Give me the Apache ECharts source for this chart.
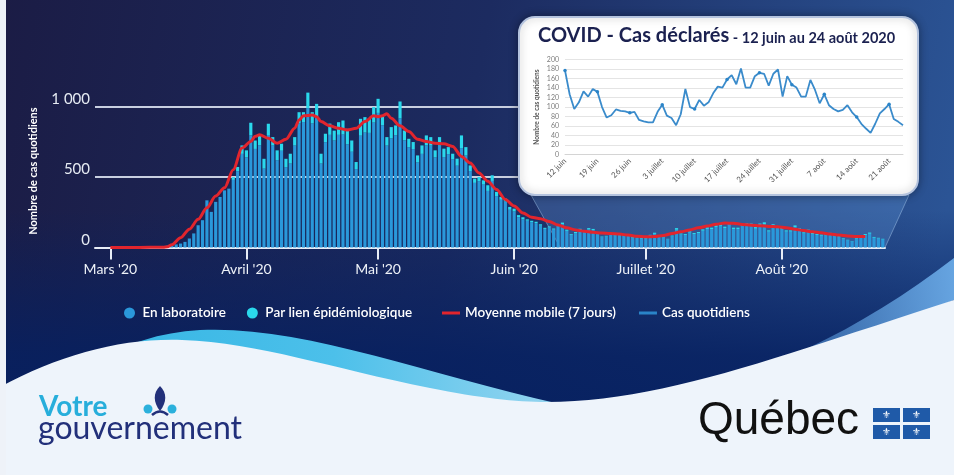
<!DOCTYPE html>
<html><head><meta charset="utf-8">
<script src="https://cdn.jsdelivr.net/npm/echarts@6.0.0/dist/echarts.min.js"></script>
<style>html,body{margin:0;padding:0;background:#eef4fb}#c{width:954px;height:475px}</style>
</head><body><div id="c"></div><script>
// ---------- DATA ----------
const padDays = 3; // empty categories before Mar 1 (Feb 27-29)
const monthTickDays = [0, 31, 61, 92, 122, 153];
const monthTickLabels = ["Mars '20", "Avril '20", "Mai '20", "Juin '20", "Juillet '20", "Août '20"];
const mainYTicks = [0, 500, 1000];
const mainYTickLabels = ['0', '500', '1 000'];

// Mar 1 -> Aug 24 2020 (177 days)
const labCases = [
  0,0,0,0,1,1,1,2,2,3,
  4,5,8,12,17,22,28,40,64,100,
  158,194,335,253,324,359,406,418,
  480,542,665,640,796,700,726,560,799,724,620,687,
  570,596,724,881,891,990,881,930,596,748,
  800,760,800,802,733,680,557,794,816,814,
  887,956,868,724,775,797,917,761,712,699,
  604,665,726,724,640,724,642,663,626,581,
  706,653,543,459,471,447,402,473,365,339,
  327,268,256,215,200,190,180,173,155,132,142,127,150,
  165,118,90,102,124,114,128,124,94,73,
  78,89,86,85,82,84,68,65,63,63,
  84,97,76,72,58,79,126,93,89,106,
  95,102,119,132,130,146,154,137,166,130,
  130,152,158,156,134,156,164,113,152,136,
  130,113,113,145,126,100,117,96,89,84,
  87,96,82,73,60,51,43,60,80,89,
  98,69,64,57
];
const epiCases = [
  0,0,0,0,0,0,0,0,0,0,
  0,0,0,0,0,0,0,0,0,0,
  0,0,0,0,0,0,0,0,
  20,30,60,50,90,60,70,70,80,60,70,50,
  60,70,60,80,70,110,80,90,70,60,
  80,70,90,100,110,80,50,120,110,100,
  110,100,70,60,80,70,120,70,60,50,
  50,60,70,60,50,60,60,50,40,50,
  90,60,40,30,30,30,40,40,30,20,
  20,20,20,15,15,10,10,10,10,8,8,8,10,
  12,9,6,8,9,8,10,8,6,5,
  5,6,6,6,6,6,5,5,5,5,
  6,8,6,5,4,6,12,7,7,9,
  8,8,10,11,11,12,13,11,15,11,
  11,13,14,14,11,14,15,9,13,11,
  11,9,9,12,10,8,10,8,7,7,
  7,8,7,6,5,4,3,5,7,7,
  8,6,5,5
];
// 7-day moving average (day index from Mar 1)
const movingAvgDays = [0,6,12,13,14,16,18,20,22,24,26,28,30,32,33,34,36,38,40,42,43,44,46,47,48,50,52,54,56,58,60,61,62,63,64,66,68,70,72,74,76,78,80,82,84,86,88,90,92,94,96,98,100,102,104,106,108,110,112,114,116,118,120,122,124,126,128,130,132,134,136,138,140,142,144,146,148,150,152,154,156,158,160,162,164,166,168,170,172];
const movingAvgValues = [0,0,2,5,20,70,130,200,282,365,424,553,706,753,790,800,776,740,769,847,906,935,941,929,894,864,847,835,847,894,935,929,935,950,918,864,824,769,753,741,736,718,647,600,529,471,412,341,294,245,215,205,185,160,140,125,115,108,103,100,95,88,80,76,78,85,100,112,125,140,152,165,174,172,164,158,155,150,147,140,130,120,112,104,96,88,82,79,78];

// Inset: daily cases 12 juin -> 24 août
const insetStartDay = 103; // 12 juin, counted from Mar 1
const insetCases = [
  177,127,96,110,133,122,138,132,100,78,
  83,95,92,91,88,90,73,70,68,68,
  90,105,82,77,62,85,138,100,96,115,
  103,110,129,143,141,158,167,148,181,141,
  141,165,172,170,145,170,179,122,165,147,
  141,122,122,157,136,108,127,104,96,91,
  94,104,89,79,65,55,46,65,87,96,
  106,75,69,62
];
const frMonths = ['janv.','févr.','mars','avril','mai','juin','juillet','août','sept.','oct.','nov.','déc.'];

// ---------- CATEGORIES ----------
const mainCategories = [];
for (let i = 0; i < padDays + labCases.length; i++) {
  mainCategories.push(new Date(Date.UTC(2020, 1, 27 + i)).toISOString().slice(0, 10));
}
const insetCategories = [];
for (let i = 0; i < insetCases.length; i++) {
  const d = new Date(Date.UTC(2020, 5, 12 + i));
  insetCategories.push(d.getUTCDate() + ' ' + frMonths[d.getUTCMonth()]);
}
const pad = new Array(padDays).fill(null);
const isMonthStart = (i) => monthTickDays.indexOf(i - padDays) >= 0;

const FONT = 'Lato, "Open Sans", "Noto Sans", sans-serif';

// decorative shapes
const decoPaths = {
  decoShine: 'M640,402 C760,380 860,330 954,258 L954,300 C880,330 800,365 700,395 Z',
  decoCyan: 'M0,420 C60,380 120,334 200,330 C300,325 420,372 560,404 C640,420 800,475 954,475 L0,475 Z',
  decoLight: 'M0,387 C60,355 120,338 182,340 C260,343 330,368 430,388 C480,398 515,402 547,402 C620,402 700,382 791,353 C850,334 905,316 954,300 L954,475 L0,475 Z',
  decoPetal: 'M160,386 C153,393 153,402 160,411 C167,402 167,393 160,386 Z',
  decoCurl: 'M152,415 Q160,408 168,415'
};
Object.keys(decoPaths).forEach(function (k) {
  echarts.graphic.registerShape(k, echarts.graphic.extendPath(decoPaths[k], {}));
});

const chart = echarts.init(document.getElementById('c'), null, {renderer: 'canvas'});

const legendText = {color: '#ffffff', fontSize: 13.5, fontWeight: 600, fontFamily: FONT};
const option = {
  animation: false,
  backgroundColor: 'transparent',
  textStyle: {fontFamily: FONT},
  title: {
    text: '{a|COVID - Cas déclarés}{b| - 12 juin au 24 août 2020}',
    left: 533, top: 18, z: 30,
    textStyle: {rich: {
      a: {fontSize: 20, fontWeight: 'bold', color: '#1b2150', fontFamily: FONT, lineHeight: 26},
      b: {fontSize: 14.5, fontWeight: 'bold', color: '#1b2150', fontFamily: FONT, lineHeight: 26, padding: [4, 0, 0, 0]}
    }}
  },
  legend: [
    {
      data: ['En laboratoire', 'Par lien épidémiologique'],
      left: 119, top: 301, icon: 'circle', itemWidth: 16, itemHeight: 11, itemGap: 21,
      selectedMode: false, textStyle: legendText
    },
    {
      data: ['Moyenne mobile (7 jours)', 'Cas quotidiens'],
      left: 437, top: 301, icon: 'rect', itemWidth: 18, itemHeight: 3, itemGap: 23,
      selectedMode: false, textStyle: legendText
    }
  ],
  grid: [
    {left: 95, right: 69, top: 106.7, bottom: 227.5, containLabel: false, outerBoundsMode: 'none'},
    {left: 565, right: 51, top: 59.5, bottom: 320.3, containLabel: false, outerBoundsMode: 'none'}
  ],
  xAxis: [
    {
      type: 'category', gridIndex: 0, data: mainCategories, boundaryGap: true,
      axisLine: {show: true, lineStyle: {color: '#e8edf6', width: 2}},
      axisTick: {show: true, alignWithLabel: true, length: 12, interval: isMonthStart,
                 lineStyle: {color: '#e8edf6', width: 2}},
      axisLabel: {show: true, interval: isMonthStart, color: '#eef2f8', fontSize: 14, margin: 15, fontFamily: FONT,
                  formatter: (v, i) => monthTickLabels[monthTickDays.indexOf(i - padDays)]},
      splitLine: {show: false}
    },
    {
      type: 'category', gridIndex: 1, data: insetCategories, boundaryGap: false, z: 20,
      axisLine: {show: true, lineStyle: {color: '#d4d4d4', width: 1}},
      axisTick: {show: false},
      axisLabel: {interval: 6, rotate: 45, color: '#555', fontSize: 8, margin: 5, fontFamily: FONT},
      splitLine: {show: false}
    }
  ],
  yAxis: [
    {
      type: 'value', gridIndex: 0, min: mainYTicks[0], max: mainYTicks[mainYTicks.length - 1], interval: 500,
      axisLine: {show: false}, axisTick: {show: false},
      axisLabel: {color: '#e6ebf3', fontSize: 15, margin: 5, verticalAlign: 'bottom', fontFamily: FONT,
                  formatter: v => mainYTickLabels[mainYTicks.indexOf(v)]},
      splitLine: {show: true, lineStyle: {color: '#c8cfe0', width: 2}},
      name: 'Nombre de cas quotidiens', nameLocation: 'middle', nameGap: 56,
      nameTextStyle: {color: '#ffffff', fontSize: 11, fontWeight: 'bold', fontFamily: FONT, padding: [0, 0, 0, 12]}
    },
    {
      type: 'value', gridIndex: 1, min: 0, max: 200, interval: 20, z: 20,
      axisLine: {show: false}, axisTick: {show: false},
      axisLabel: {color: '#7d7d7d', fontSize: 7, margin: 6, fontFamily: FONT},
      splitLine: {show: true, lineStyle: {color: '#e4e4e4', width: 1}},
      name: 'Nombre de cas quotidiens', nameLocation: 'middle', nameGap: 25,
      nameTextStyle: {color: '#555', fontSize: 6.5, fontWeight: 'bold', fontFamily: FONT}
    }
  ],
  series: [
    {
      name: 'En laboratoire', type: 'bar', xAxisIndex: 0, yAxisIndex: 0, stack: 'cas',
      data: pad.concat(labCases), barCategoryGap: '28%', clip: false,
      itemStyle: {color: '#2a98da'}, z: 3
    },
    {
      name: 'Par lien épidémiologique', type: 'bar', xAxisIndex: 0, yAxisIndex: 0, stack: 'cas',
      data: pad.concat(epiCases), barCategoryGap: '28%', clip: false,
      itemStyle: {color: '#2ad8ec'}, z: 3
    },
    {
      name: 'Moyenne mobile (7 jours)', type: 'line', xAxisIndex: 0, yAxisIndex: 0,
      data: movingAvgDays.map((d, i) => [d + padDays, movingAvgValues[i]]),
      smooth: 0.3, smoothMonotone: 'x', symbol: 'none', clip: false,
      itemStyle: {color: '#e2252d'}, lineStyle: {color: '#e2252d', width: 3}, z: 6
    },
    {
      name: 'Cas quotidiens', type: 'line', xAxisIndex: 1, yAxisIndex: 1,
      data: insetCases, symbol: 'circle', symbolSize: 3.5, showSymbol: true,
      itemStyle: {color: '#2a84c8'}, lineStyle: {color: '#3a8bcb', width: 1.8}, z: 25
    }
  ]
};
chart.setOption(option);

// decorations (background, wave, logos, inset frame and zoom projection)
const cx = (i) => chart.convertToPixel({xAxisIndex: 0}, i);
const bw = cx(padDays + 1) - cx(padDays);
const xStart = cx(padDays + insetStartDay) - bw / 2;
const xEnd = cx(padDays + insetStartDay + insetCases.length - 1) + bw / 2;
const yBase = chart.convertToPixel({yAxisIndex: 0}, 0);

const graphics = [
  {type: 'rect', z: -10, silent: true, shape: {x: 0, y: 0, width: 954, height: 475},
   style: {fill: {type: 'linear', x: 0, y: 0, x2: 1, y2: 0.35, colorStops: [
     {offset: 0, color: '#1b1c45'}, {offset: 0.5, color: '#1c2b60'}, {offset: 1, color: '#2b5495'}]}}},
  {type: 'rect', z: -9, silent: true, shape: {x: 0, y: 210, width: 954, height: 265},
   style: {fill: {type: 'linear', x: 0, y: 0, x2: 0, y2: 1, colorStops: [
     {offset: 0, color: 'rgba(6,32,96,0)'}, {offset: 0.55, color: 'rgba(6,32,96,0.85)'}, {offset: 1, color: 'rgba(6,32,96,1)'}]}}},
  {type: 'decoShine', z: -8, silent: true,
   style: {fill: {type: 'linear', x: 0, y: 0, x2: 1, y2: 0, colorStops: [
     {offset: 0, color: 'rgba(80,150,220,0)'}, {offset: 1, color: 'rgba(110,175,235,0.9)'}]}}},
  {type: 'decoCyan', z: -7, silent: true,
   style: {fill: {type: 'linear', x: 0, y: 0, x2: 1, y2: 0, colorStops: [
     {offset: 0, color: '#2cb2e2'}, {offset: 0.35, color: '#4cc0ea'}, {offset: 0.6, color: '#9ad6f0'}, {offset: 1, color: '#d6eef8'}]}}},
  {type: 'decoLight', z: -6, silent: true, style: {fill: '#eef4fb'}},
  {type: 'rect', z: -5, silent: true, shape: {x: 0, y: 0, width: 6, height: 475}, style: {fill: '#eef2f8'}},
  // projection of the inset onto the main chart
  {type: 'polygon', z: -3, silent: true,
   shape: {points: [[531, 195], [909, 195], [xEnd, yBase], [xStart, yBase]]},
   style: {fill: 'rgba(110,165,230,0.26)', stroke: 'rgba(170,205,240,0.45)', lineWidth: 1}},
  // inset frame
  {type: 'rect', z: 10, silent: true, shape: {x: 519, y: 17, width: 399, height: 178, r: 16},
   style: {fill: '#ffffff', stroke: '#b4c3de', lineWidth: 2, shadowBlur: 8, shadowColor: 'rgba(0,0,0,0.35)'}},
  // "Votre gouvernement" logo
  {type: 'text', z: 5, silent: true, x: 39, y: 393,
   style: {text: 'Votre', font: 'bold 28px ' + FONT, fill: '#27aedb', verticalAlign: 'top'}},
  {type: 'text', z: 5, silent: true, x: 38, y: 413,
   style: {text: 'gouvernement', font: '32px ' + FONT, fill: '#22307a', verticalAlign: 'top'}},
  {type: 'decoPetal', z: 5, silent: true, style: {fill: '#22307a'}},
  {type: 'circle', z: 5, silent: true, shape: {cx: 148, cy: 409, r: 4.5}, style: {fill: '#2bb0dc'}},
  {type: 'circle', z: 5, silent: true, shape: {cx: 172, cy: 409, r: 4.5}, style: {fill: '#2bb0dc'}},
  {type: 'decoCurl', z: 5, silent: true, style: {fill: null, stroke: '#22307a', lineWidth: 2.5}},
  // "Québec" logo
  {type: 'text', z: 5, silent: true, x: 698, y: 398,
   style: {text: 'Québec', font: '46px "Liberation Sans", Arial, sans-serif', fill: '#111111', verticalAlign: 'top'}}
];
[[873, 408], [903, 408], [873, 425], [903, 425]].forEach(function (p) {
  graphics.push({type: 'rect', z: 5, silent: true, shape: {x: p[0], y: p[1], width: 27, height: 14}, style: {fill: '#1f5aa8'}});
  graphics.push({type: 'text', z: 6, silent: true, x: p[0] + 13.5, y: p[1] + 7.5,
    style: {text: '⚜', font: '10px "DejaVu Sans"', fill: '#ffffff', align: 'center', verticalAlign: 'middle'}});
});
chart.setOption({graphic: {elements: graphics}});
</script></body></html>
